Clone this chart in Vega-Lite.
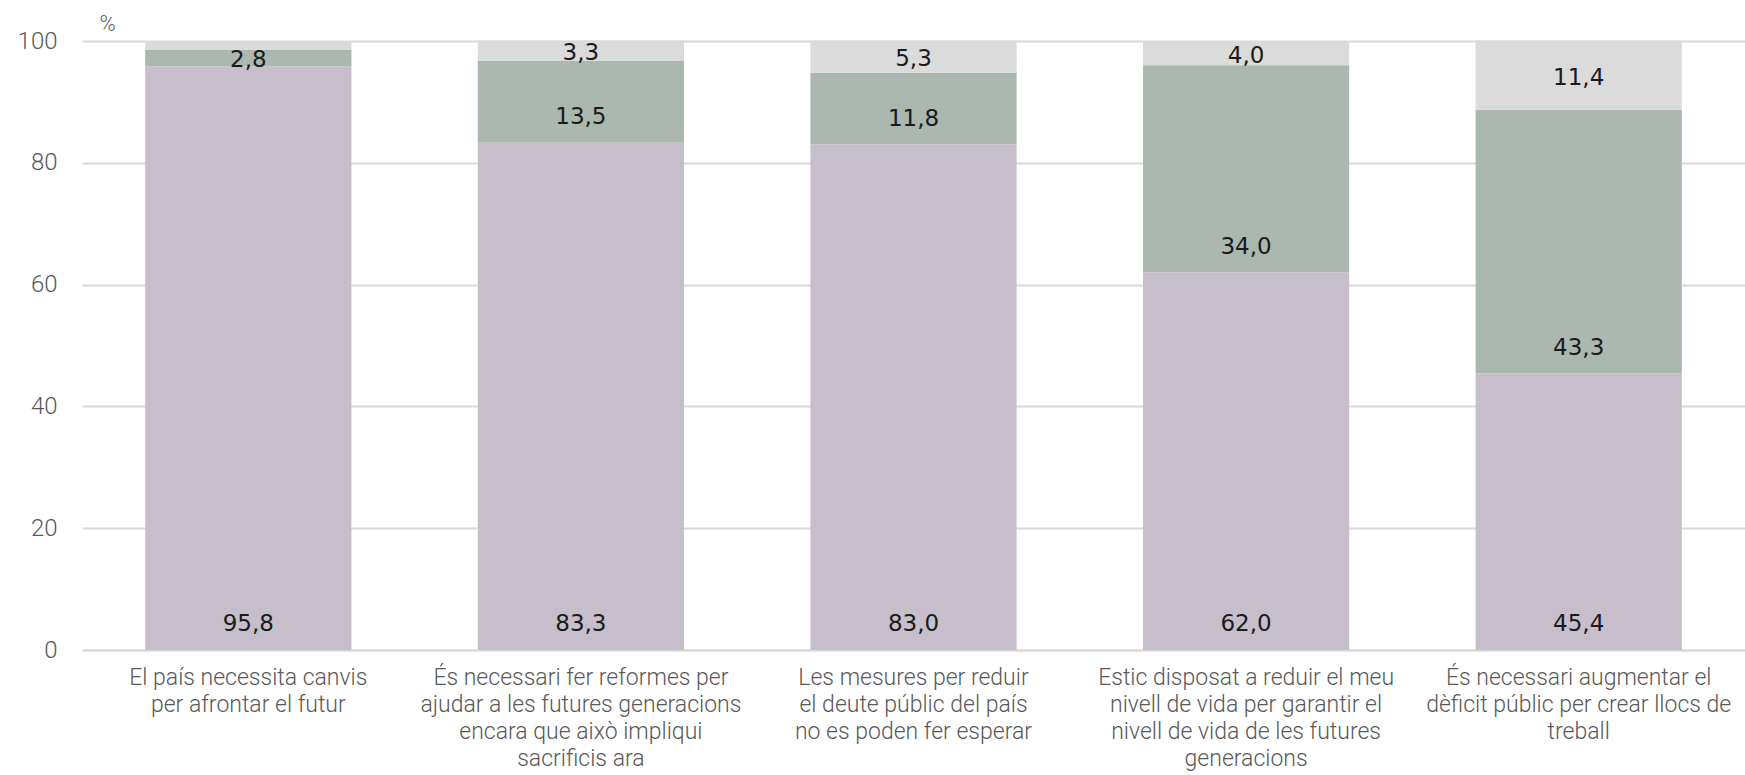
{
  "$schema": "https://vega.github.io/schema/vega-lite/v6.json",
  "width": 1663,
  "height": 609,
  "autosize": {"type": "none"},
  "padding": {"left": 82, "top": 41, "right": 0, "bottom": 125},
  "background": "#ffffff",
  "config": {
    "view": {"stroke": null},
    "locale": {"number": {"decimal": ",", "thousands": ".", "grouping": [3], "currency": ["", " €"]}}
  },
  "data": {
    "values": [
      {"pregunta": "El país necessita canvis|per afrontar el futur", "serie": "D'acord", "ordre": 1, "valor": 95.8},
      {"pregunta": "El país necessita canvis|per afrontar el futur", "serie": "En desacord", "ordre": 2, "valor": 2.8},
      {"pregunta": "El país necessita canvis|per afrontar el futur", "serie": "NS/NC", "ordre": 3, "valor": 1.4},
      {"pregunta": "És necessari fer reformes per|ajudar a les futures generacions|encara que això impliqui|sacrificis ara", "serie": "D'acord", "ordre": 1, "valor": 83.3},
      {"pregunta": "És necessari fer reformes per|ajudar a les futures generacions|encara que això impliqui|sacrificis ara", "serie": "En desacord", "ordre": 2, "valor": 13.5},
      {"pregunta": "És necessari fer reformes per|ajudar a les futures generacions|encara que això impliqui|sacrificis ara", "serie": "NS/NC", "ordre": 3, "valor": 3.3},
      {"pregunta": "Les mesures per reduir|el deute públic del país|no es poden fer esperar", "serie": "D'acord", "ordre": 1, "valor": 83.0},
      {"pregunta": "Les mesures per reduir|el deute públic del país|no es poden fer esperar", "serie": "En desacord", "ordre": 2, "valor": 11.8},
      {"pregunta": "Les mesures per reduir|el deute públic del país|no es poden fer esperar", "serie": "NS/NC", "ordre": 3, "valor": 5.3},
      {"pregunta": "Estic disposat a reduir el meu|nivell de vida per garantir el|nivell de vida de les futures|generacions", "serie": "D'acord", "ordre": 1, "valor": 62.0},
      {"pregunta": "Estic disposat a reduir el meu|nivell de vida per garantir el|nivell de vida de les futures|generacions", "serie": "En desacord", "ordre": 2, "valor": 34.0},
      {"pregunta": "Estic disposat a reduir el meu|nivell de vida per garantir el|nivell de vida de les futures|generacions", "serie": "NS/NC", "ordre": 3, "valor": 4.0},
      {"pregunta": "És necessari augmentar el|dèficit públic per crear llocs de|treball", "serie": "D'acord", "ordre": 1, "valor": 45.4},
      {"pregunta": "És necessari augmentar el|dèficit públic per crear llocs de|treball", "serie": "En desacord", "ordre": 2, "valor": 43.3},
      {"pregunta": "És necessari augmentar el|dèficit públic per crear llocs de|treball", "serie": "NS/NC", "ordre": 3, "valor": 11.4}
    ]
  },
  "transform": [
    {"stack": "valor", "groupby": ["pregunta"], "sort": [{"field": "ordre", "order": "ascending"}], "as": ["y0", "y1"]},
    {"calculate": "datum.ordre == 3 ? (datum.y0 + datum.y1) / 2 - 0.4 : min(datum.y0 + 4.2, (datum.y0 + datum.y1) / 2 - 0.3)", "as": "ypos"}
  ],
  "encoding": {
    "x": {
      "field": "pregunta",
      "type": "nominal",
      "sort": null,
      "scale": {"paddingInner": 0.38, "paddingOuter": 0.19},
      "axis": {
        "title": null,
        "labelAngle": 0,
        "labelExpr": "split(datum.label, '|')",
        "labelFont": "Roboto",
        "labelFontWeight": 300,
        "labelFontSize": 23,
        "labelLineHeight": 27,
        "labelColor": "#595959",
        "labelPadding": 16,
        "labelLimit": 400,
        "ticks": false,
        "domain": true,
        "domainColor": "#D9D9D9",
        "domainWidth": 2
      }
    }
  },
  "layer": [
    {
      "mark": {"type": "bar"},
      "encoding": {
        "y": {
          "field": "y0",
          "type": "quantitative",
          "scale": {"domain": [0, 100], "nice": false},
          "axis": {
            "title": "%",
            "titleAngle": 0,
            "titleX": 25,
            "titleY": -18,
            "titleAlign": "center",
            "titleBaseline": "middle",
            "titleFont": "Roboto",
            "titleFontSize": 22,
            "titleFontWeight": 300,
            "titleColor": "#595959",
            "values": [0, 20, 40, 60, 80, 100],
            "labelFont": "Roboto",
            "labelFontWeight": 300,
            "labelFontSize": 24,
            "labelColor": "#595959",
            "labelPadding": 25,
            "ticks": false,
            "domain": false,
            "grid": true,
            "gridColor": "#D9D9D9",
            "gridWidth": 2
          }
        },
        "y2": {"field": "y1"},
        "color": {
          "field": "serie",
          "type": "nominal",
          "scale": {"domain": ["D'acord", "En desacord", "NS/NC"], "range": ["#C6BFCB", "#ABB8B0", "#DBDBDB"]},
          "legend": null
        }
      }
    },
    {
      "transform": [{"filter": "datum.valor >= 2"}],
      "mark": {"type": "text", "font": "DejaVu Sans", "fontSize": 23, "color": "#1a1a1a", "baseline": "middle", "align": "center"},
      "encoding": {
        "y": {"field": "ypos", "type": "quantitative"},
        "text": {"field": "valor", "type": "quantitative", "format": ".1f"}
      }
    }
  ]
}
